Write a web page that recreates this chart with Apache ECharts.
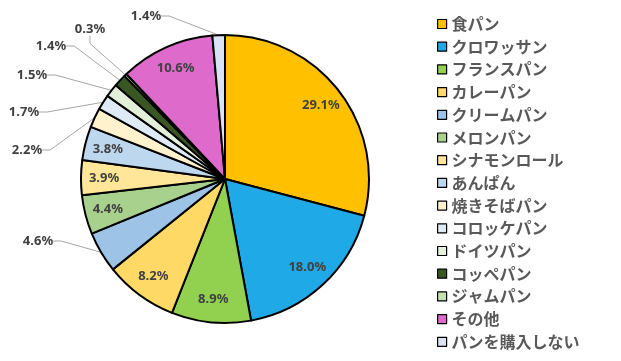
<!DOCTYPE html>
<html>
<head>
<meta charset="utf-8">
<script src="https://cdn.jsdelivr.net/npm/echarts@6/dist/echarts.min.js"></script>
<style>
  html, body { margin: 0; padding: 0; background: #fff; }
  #chart { width: 621px; height: 361px; }
</style>
</head>
<body>
<div id="chart"></div>
<script>
// data (percent)
const names = ['食パン', 'クロワッサン', 'フランスパン', 'カレーパン', 'クリームパン', 'メロンパン',
  'シナモンロール', 'あんぱん', '焼きそばパン', 'コロッケパン', 'ドイツパン', 'コッペパン',
  'ジャムパン', 'その他', 'パンを購入しない'];
const values = [29.1, 18.0, 8.9, 8.2, 4.6, 4.4, 3.9, 3.8, 2.2, 1.7, 1.5, 1.4, 0.3, 10.6, 1.4];

const colors = ['#FFC000', '#1FA9E6', '#92D050', '#FFD966', '#9DC3E6', '#A9D18E',
  '#FFE699', '#BDD7EE', '#FFF2CC', '#DEEBF7', '#E2F0D9', '#385723',
  '#C5E0B4', '#DE6BCB', '#DAE3F3'];

// slices whose label sits outside, with where the label text goes
const outsideLabelPos = {
  'クリームパン': [38, 241],
  '焼きそばパン': [27, 150],
  'コロッケパン': [24, 112],
  'ドイツパン': [32, 75],
  'コッペパン': [51, 46],
  'ジャムパン': [90, 29],
  'パンを購入しない': [146, 16]
};

const labelFont = { color: '#404040', fontSize: 13, fontWeight: 'bold', fontFamily: 'Noto Sans' };
const fmt = p => p.value.toFixed(1) + '%';

var myChart = echarts.init(document.getElementById('chart'), null, { renderer: 'canvas' });

const mainData = names.map(function (n, i) {
  const out = outsideLabelPos[n] != null;
  return {
    name: n,
    value: values[i],
    itemStyle: { color: colors[i] },
    label: { show: out },
    labelLine: { show: out }
  };
});

const innerData = names.map(function (n, i) {
  return {
    name: n,
    value: values[i],
    label: { show: outsideLabelPos[n] == null }
  };
});

var option = {
  animation: false,
  legend: {
    orient: 'vertical',
    left: 432,
    top: 11,
    itemWidth: 9,
    itemHeight: 9,
    itemGap: 6.7,
    icon: 'rect',
    itemStyle: { borderColor: '#000', borderWidth: 1.2 },
    textStyle: {
      color: '#595959',
      fontSize: 16,
      lineHeight: 16,
      fontWeight: 'bold',
      fontFamily: 'Noto Sans CJK JP'
    },
    data: names
  },
  series: [
    {
      name: 'main',
      type: 'pie',
      center: [225, 179],
      radius: [0, 144],
      startAngle: 90,
      clockwise: true,
      avoidLabelOverlap: false,
      itemStyle: { borderColor: '#000', borderWidth: 2 },
      label: Object.assign({ position: 'outside', formatter: fmt }, labelFont),
      labelLine: {
        length: 10,
        length2: 8,
        lineStyle: { color: '#A6A6A6', width: 1 }
      },
      labelLayout: function (params) {
        const pos = outsideLabelPos[names[params.dataIndex]];
        if (!pos) return {};
        return { x: pos[0], y: pos[1], align: 'center', verticalAlign: 'middle' };
      },
      emphasis: { disabled: true },
      data: mainData
    },
    {
      name: 'labels',
      type: 'pie',
      center: [225, 179],
      radius: [92, 144],
      startAngle: 90,
      clockwise: true,
      silent: true,
      avoidLabelOverlap: false,
      itemStyle: { color: 'rgba(0,0,0,0)', borderWidth: 0 },
      label: Object.assign({ position: 'inside', formatter: fmt }, labelFont),
      labelLine: { show: false },
      emphasis: { disabled: true },
      data: innerData
    }
  ]
};

myChart.setOption(option);
</script>
</body>
</html>
